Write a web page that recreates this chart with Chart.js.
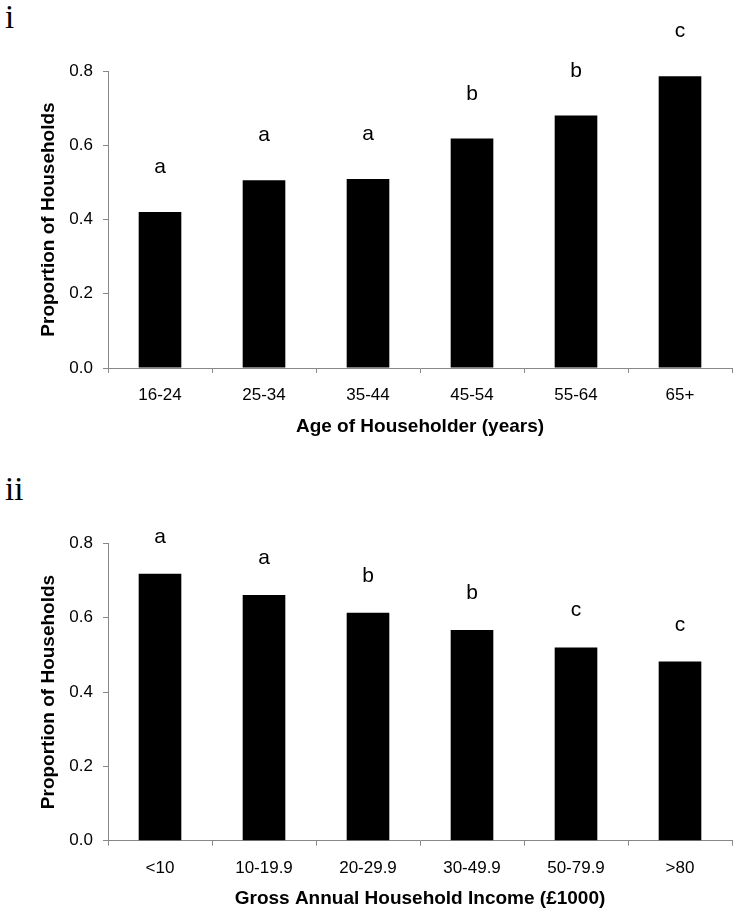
<!DOCTYPE html>
<html><head><meta charset="utf-8">
<script src="https://cdn.jsdelivr.net/npm/chart.js@4"></script>
<style>
html,body{margin:0;padding:0;background:#fff;width:738px;height:916px;overflow:hidden;position:relative;}
.wrap{position:absolute;left:0;width:738px;}
.panel{position:absolute;font-family:"Liberation Serif","Times New Roman",serif;font-size:33px;line-height:32px;color:#000;}
canvas{display:block;}
</style></head><body>
<div class="panel" style="left:5px;top:1px;">i</div>
<div class="panel" style="left:5px;top:473px;">ii</div>
<div class="wrap" style="top:0;height:450px"><canvas id="c1" width="738" height="450"></canvas></div>
<div class="wrap" style="top:440px;height:476px"><canvas id="c2" width="738" height="476"></canvas></div>
<script>
// ---- data ----
const ageLabels = ['16-24','25-34','35-44','45-54','55-64','65+'];
const ageValues = [0.420, 0.506, 0.509, 0.618, 0.680, 0.786];
const ageLetters = ['a','a','a','b','b','c'];

const incomeLabels = ['<10','10-19.9','20-29.9','30-49.9','50-79.9','>80'];
const incomeValues = [0.718, 0.661, 0.613, 0.567, 0.520, 0.482];
const incomeLetters = ['a','a','b','b','c','c'];

const yTicks = [0.0, 0.2, 0.4, 0.6, 0.8];

const yTitle = 'Proportion of Households';
const ageTitle = 'Age of Householder (years)';
const incomeTitle = 'Gross Annual Household Income (\u00a31000)';

// ---- drawing ----
const FONT = '"Liberation Sans", Arial, Helvetica, sans-serif';
const AXIS = '#888';

const letterPlugin = {
  id: 'letters',
  afterDatasetsDraw(chart, args, opts) {
    const meta = chart.getDatasetMeta(0);
    const ctx = chart.ctx;
    ctx.save();
    ctx.font = '21px ' + FONT;
    ctx.fillStyle = '#000';
    ctx.textAlign = 'center';
    ctx.textBaseline = 'alphabetic';
    meta.data.forEach((bar, i) => {
      ctx.fillText(opts.letters[i], bar.x, bar.y - opts.offset);
    });
    ctx.restore();
  }
};

function makeChart(id, labels, values, letters, xTitle, areaTop, xHeight, titlePad, letterOffset) {
  return new Chart(document.getElementById(id), {
    type: 'bar',
    data: {
      labels: labels,
      datasets: [{
        data: values,
        backgroundColor: '#000',
        borderColor: '#000',
        borderWidth: 0,
        barPercentage: 0.41,
        categoryPercentage: 1.0
      }]
    },
    plugins: [letterPlugin],
    options: {
      responsive: false,
      animation: false,
      devicePixelRatio: 1,
      layout: { padding: { top: areaTop, right: 6, left: 0, bottom: 0 } },
      plugins: {
        legend: { display: false },
        tooltip: { enabled: false },
        title: { display: false },
        letters: { letters: letters, offset: letterOffset }
      },
      scales: {
        x: {
          offset: true,
          grid: { display: true, drawOnChartArea: false, drawTicks: true, tickLength: 5, color: AXIS, offset: true, lineWidth: 1 },
          border: { display: true, color: AXIS, width: 1 },
          ticks: { color: '#000', font: { family: FONT, size: 17 }, padding: 12, maxRotation: 0, autoSkip: false },
          title: { display: true, text: xTitle, color: '#000', font: { family: FONT, size: 19, weight: 'bold' }, padding: { top: 0, bottom: titlePad } },
          afterFit: s => { s.height = xHeight; }
        },
        y: {
          min: 0, max: 0.8,
          afterBuildTicks: s => { s.ticks = yTicks.map(v => ({ value: v })); },
          grid: { display: true, drawOnChartArea: false, drawTicks: true, tickLength: 5, color: AXIS, lineWidth: 1 },
          border: { display: true, color: AXIS, width: 1 },
          ticks: { color: '#000', font: { family: FONT, size: 17 }, padding: 10, callback: v => Number(v).toFixed(1) },
          title: { display: true, text: yTitle, color: '#000', font: { family: FONT, size: 19, weight: 'bold' }, padding: { top: 37, bottom: 0 } },
          afterFit: s => { s.width = 108; }
        }
      }
    }
  });
}

makeChart('c1', ageLabels, ageValues, ageLetters, ageTitle, 71, 82, 12, 39);
makeChart('c2', incomeLabels, incomeValues, incomeLetters, incomeTitle, 103.3, 75.3, 6, 31);
</script>
</body></html>
